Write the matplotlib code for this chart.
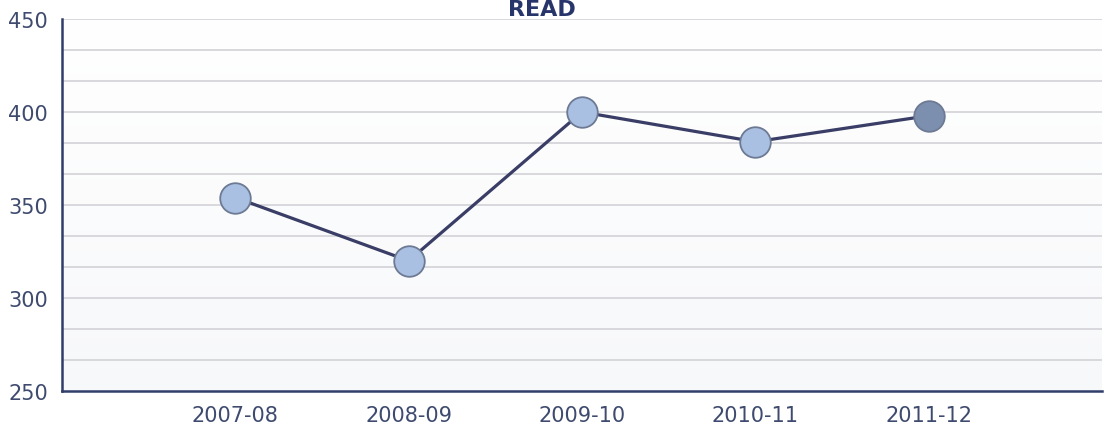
import matplotlib.pyplot as plt
import numpy as np

years = ['2007-08', '2008-09', '2009-10', '2010-11', '2011-12']
scores = [354, 320, 400, 384, 398]
yticks = [250, 300, 350, 400, 450]

fig = plt.figure(figsize=(11.10, 4.31), dpi=100)
ax = fig.add_axes([62 / 1110, 1 - 392 / 431, 1040 / 1110, 372 / 431])

# faint vertical gradient background
grad = np.linspace(0, 1, 256).reshape(-1, 1)
ax.imshow(grad, extent=[0, 6, 250, 450], aspect='auto', cmap=plt.matplotlib.colors.LinearSegmentedColormap.from_list(
    'bg', ['#f7f8fa', '#ffffff']), origin='lower', zorder=0)

# gridlines (major + minor every 50/3)
for yv in np.linspace(250, 450, 13)[1:]:
    ax.axhline(yv, color='#d6d6da', lw=1.3, zorder=1)

x = np.arange(1, len(years) + 1)
ax.plot(x, scores, color='#3a3d66', lw=2.3, zorder=3)
face = ['#aac0e2'] * (len(years) - 1) + ['#7d8fae']
for xi, yi, fc in zip(x, scores, face):
    ax.plot(xi, yi, 'o', ms=22, mfc=fc, mec='#6c7a94', mew=1.3, zorder=4)

ax.set_xlim(0, 6)
ax.set_ylim(250, 450)
ax.set_xticks(x)
ax.set_xticklabels(years)
ax.set_yticks(yticks)
ax.tick_params(length=0, labelsize=15, colors='#3e4a6e', pad=10)
ax.tick_params(axis='x', pad=10)
for s in ['top', 'right']:
    ax.spines[s].set_visible(False)
for s in ['left', 'bottom']:
    ax.spines[s].set_color('#2f3d6b')
    ax.spines[s].set_linewidth(1.8)

fig.text(0.488, 0.999, 'READ', ha='center', va='top', fontsize=16,
         fontweight='bold', color='#27356a')

fig.savefig('out.png', dpi=100)
